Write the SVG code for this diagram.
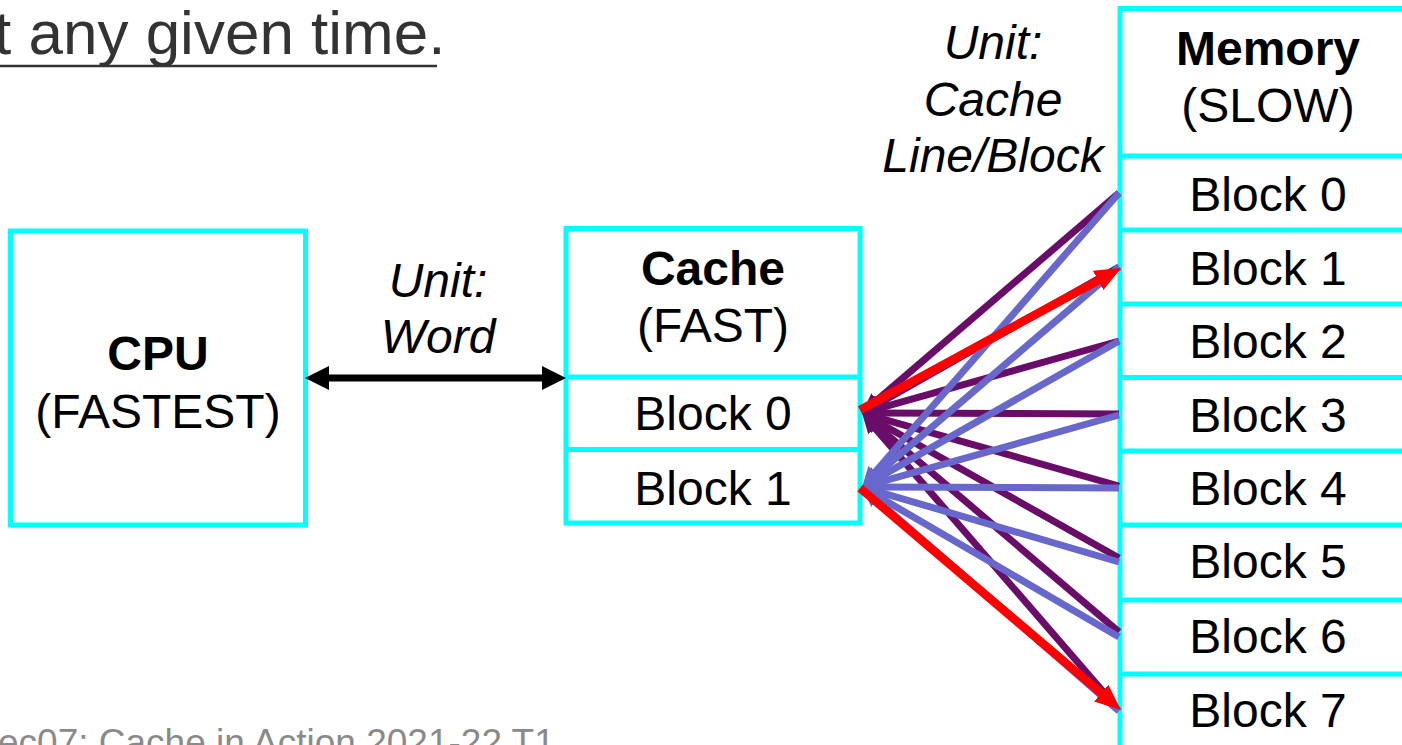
<svg xmlns="http://www.w3.org/2000/svg" width="1402" height="745" viewBox="0 0 1402 745">
  <style>
    .box { fill: #ffffff; stroke: #00ffff; stroke-width: 5; }
    .sep { stroke: #00ffff; stroke-width: 5; }
    .t { font-family: "Liberation Sans", Arial, sans-serif; font-size: 48px; fill: #000000; text-anchor: middle; }
    .b { font-weight: bold; }
    .i { font-style: italic; }
    .p { fill: none; stroke: #6a0d69; stroke-width: 7; }
    .q { fill: none; stroke: #6868cc; stroke-width: 7; }
    .r { fill: none; stroke: #ff0000; stroke-width: 8.5; }
    .k { fill: none; stroke: #000000; stroke-width: 7; }
  </style>
  <defs>
    <marker id="ahP" viewBox="0 0 20 18" refX="10" refY="9" markerWidth="20" markerHeight="18" markerUnits="userSpaceOnUse" orient="auto">
      <path d="M0,0 L20,9 L0,18 z" fill="#6a0d69"/>
    </marker>
    <marker id="ahQ" viewBox="0 0 20 18" refX="10" refY="9" markerWidth="20" markerHeight="18" markerUnits="userSpaceOnUse" orient="auto">
      <path d="M0,0 L20,9 L0,18 z" fill="#6868cc"/>
    </marker>
    <marker id="ahR" viewBox="0 0 26 22" refX="13" refY="11" markerWidth="26" markerHeight="22" markerUnits="userSpaceOnUse" orient="auto">
      <path d="M0,0 L26,11 L0,22 z" fill="#ff0000"/>
    </marker>
    <marker id="ahK" viewBox="0 0 24 24" refX="12" refY="12" markerWidth="24" markerHeight="24" markerUnits="userSpaceOnUse" orient="auto-start-reverse">
      <path d="M0,0 L24,12 L0,24 z" fill="#000000"/>
    </marker>
  </defs>

  <!-- slide text fragments -->
  <text x="-6" y="54" font-family="Liberation Sans, Arial, sans-serif" font-size="62" fill="#333333">t any given time.</text>
  <line x1="0" y1="66" x2="437" y2="66" stroke="#333333" stroke-width="2.5"/>
  <text x="-2" y="755" font-family="Liberation Sans, Arial, sans-serif" font-size="37" fill="#8a8a8a">ec07: Cache in Action 2021-22 T1</text>

  <!-- CPU -->
  <g id="cpu">
    <rect class="box" x="10.5" y="231" width="295" height="294"/>
    <text class="t b" x="158" y="370">CPU</text>
    <text class="t" x="158" y="428">(FASTEST)</text>
  </g>

  <!-- Cache -->
  <g id="cache">
    <rect class="box" x="566" y="228.5" width="294" height="294.5"/>
    <line class="sep" x1="566" y1="377" x2="860" y2="377"/>
    <line class="sep" x1="566" y1="449.5" x2="860" y2="449.5"/>
    <text class="t b" x="713" y="285">Cache</text>
    <text class="t" x="713" y="342">(FAST)</text>
    <text class="t" x="713" y="430">Block 0</text>
    <text class="t" x="713" y="505">Block 1</text>
  </g>

  <!-- Memory -->
  <g id="memory">
    <rect class="box" x="1120" y="8.5" width="300" height="760"/>
    <line class="sep" x1="1120" y1="156" x2="1420" y2="156"/>
    <line class="sep" x1="1120" y1="230" x2="1420" y2="230"/>
    <line class="sep" x1="1120" y1="304" x2="1420" y2="304"/>
    <line class="sep" x1="1120" y1="377.5" x2="1420" y2="377.5"/>
    <line class="sep" x1="1120" y1="451" x2="1420" y2="451"/>
    <line class="sep" x1="1120" y1="525" x2="1420" y2="525"/>
    <line class="sep" x1="1120" y1="600" x2="1420" y2="600"/>
    <line class="sep" x1="1120" y1="674" x2="1420" y2="674"/>
    <text class="t b" x="1268" y="65">Memory</text>
    <text class="t" x="1268" y="122">(SLOW)</text>
    <text class="t" x="1268" y="211">Block 0</text>
    <text class="t" x="1268" y="285">Block 1</text>
    <text class="t" x="1268" y="358">Block 2</text>
    <text class="t" x="1268" y="432">Block 3</text>
    <text class="t" x="1268" y="505">Block 4</text>
    <text class="t" x="1268" y="578">Block 5</text>
    <text class="t" x="1268" y="653">Block 6</text>
    <text class="t" x="1268" y="727">Block 7</text>
  </g>

  <!-- unit labels -->
  <g id="label-word">
    <text class="t i" x="438" y="297">Unit:</text>
    <text class="t i" x="438" y="353">Word</text>
  </g>
  <g id="label-line">
    <text class="t i" x="993" y="59">Unit:</text>
    <text class="t i" x="993" y="116">Cache</text>
    <text class="t i" x="993" y="172">Line/Block</text>
  </g>

  <g id="connectors">
    <!-- CPU <-> cache word transfer -->
    <path class="k" d="M317,378 L554,378" marker-start="url(#ahK)" marker-end="url(#ahK)"/>

    <!-- every memory block can map into cache block 0 -->
    <path class="p" d="M1119,193 L869.6,406.5" marker-end="url(#ahP)"/>
    <path class="p" d="M1119,267 L870.7,408.1" marker-end="url(#ahP)"/>
    <path class="p" d="M1119,341 L871.6,410.3" marker-end="url(#ahP)"/>
    <path class="p" d="M1119,414 L872,413" marker-end="url(#ahP)"/>
    <path class="p" d="M1119,486 L871.6,415.8" marker-end="url(#ahP)"/>
    <path class="p" d="M1119,558 L870.7,418" marker-end="url(#ahP)"/>
    <path class="p" d="M1119,632 L869.6,419.6" marker-end="url(#ahP)"/>
    <path class="p" d="M1113,703 L868.5,420.6" marker-end="url(#ahP)"/>

    <!-- every memory block can map into cache block 1 -->
    <path class="q" d="M1119,193 L868.6,479.5" marker-end="url(#ahQ)"/>
    <path class="q" d="M1119,267 L869.6,480.5" marker-end="url(#ahQ)"/>
    <path class="q" d="M1119,341 L870.7,482.1" marker-end="url(#ahQ)"/>
    <path class="q" d="M1119,415 L871.6,484.3" marker-end="url(#ahQ)"/>
    <path class="q" d="M1119,488 L872,487" marker-end="url(#ahQ)"/>
    <path class="q" d="M1119,562 L871.6,489.8" marker-end="url(#ahQ)"/>
    <path class="q" d="M1119,637 L870.6,492" marker-end="url(#ahQ)"/>
    <path class="q" d="M1119,711 L869.6,493.6" marker-end="url(#ahQ)"/>

    <!-- current contents: cache block 0 <- memory block 1, cache block 1 <- memory block 7 -->
    <path class="r" d="M860,410 L1109.6,274.2" marker-end="url(#ahR)"/>
    <path class="r" d="M860,488 L1111.1,701.6" marker-end="url(#ahR)"/>
  </g>
</svg>
